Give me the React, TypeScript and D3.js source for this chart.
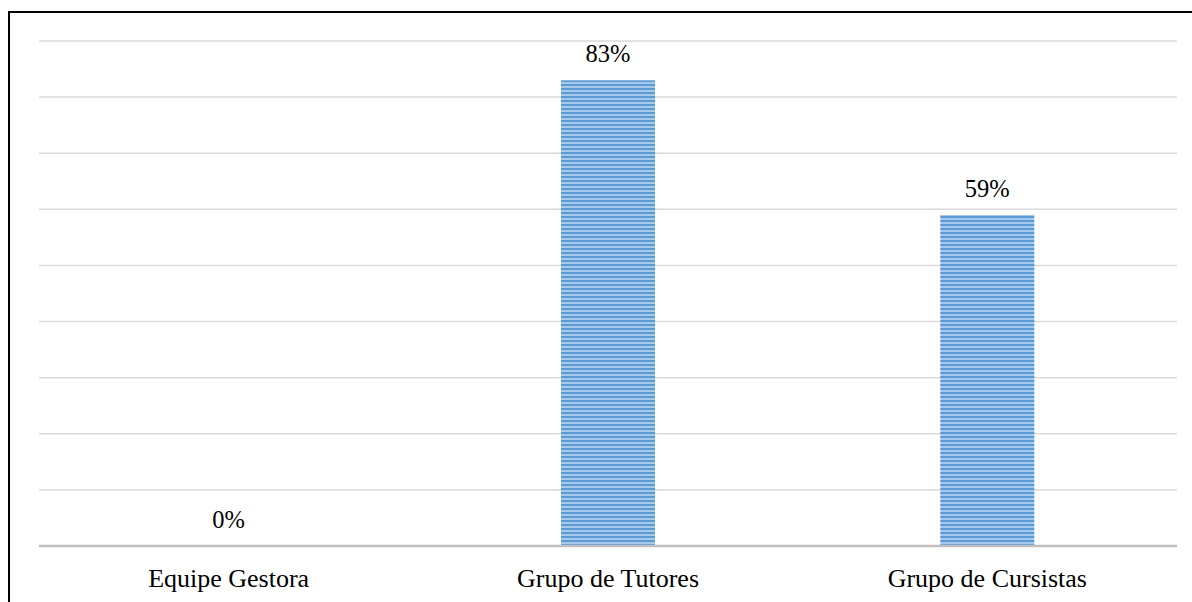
import React from "react";
import * as d3 from "d3";

const categories = ["Equipe Gestora", "Grupo de Tutores", "Grupo de Cursistas"];
const values = [0, 83, 59];
const gridTicks = [0, 10, 20, 30, 40, 50, 60, 70, 80, 90];

const W = 1192;
const H = 602;
const plot = { left: 39, right: 1177, top: 41, bottom: 546 };

export default function App() {
  const x = d3
    .scaleBand<string>()
    .domain(categories)
    .range([plot.left, plot.right])
    .paddingInner(0.752)
    .paddingOuter(0.376);
  const y = d3.scaleLinear().domain([0, 90]).range([plot.bottom, plot.top]);
  const family = "Liberation Serif, Times New Roman, Times, DejaVu Serif, serif";

  return (
    <svg
      width={W}
      height={H}
      style={{ position: "absolute", left: 0, top: 0, background: "#fff" }}
    >
      <defs>
        <pattern id="stripes" width={8} height={4} patternUnits="userSpaceOnUse">
          <rect width={8} height={4} fill="#a8c8ea" />
          <rect width={8} height={2} fill="#5b9bd5" />
        </pattern>
      </defs>
      <rect x={0} y={0} width={W} height={H} fill="#fff" />
      {/* outer frame: only the left and top edges fall inside the view */}
      <path d={`M9,${H + 5}V12H${W + 5}`} fill="none" stroke="#000" strokeWidth={2} />
      {gridTicks
        .filter((t) => t > 0)
        .map((t) => (
          <line
            key={t}
            x1={plot.left}
            x2={plot.right}
            y1={y(t)}
            y2={y(t)}
            stroke="#d9d9d9"
            strokeWidth={1.5}
          />
        ))}
      {categories.map((c, i) => (
        <rect
          key={c}
          x={x(c)}
          y={y(values[i])}
          width={x.bandwidth()}
          height={y(0) - y(values[i])}
          fill="url(#stripes)"
        />
      ))}
      <line
        x1={plot.left}
        x2={plot.right}
        y1={y(0)}
        y2={y(0)}
        stroke="#bfbfbf"
        strokeWidth={2.5}
      />
      {categories.map((c, i) => (
        <text
          key={c + "v"}
          x={(x(c) ?? 0) + x.bandwidth() / 2}
          y={y(values[i]) - 18}
          textAnchor="middle"
          style={{ fontFamily: family, fontSize: "24.5px" }}
          fill="#000"
        >
          {values[i]}%
        </text>
      ))}
      {categories.map((c) => (
        <text
          key={c + "l"}
          x={(x(c) ?? 0) + x.bandwidth() / 2}
          y={587}
          textAnchor="middle"
          style={{ fontFamily: family, fontSize: "26px" }}
          fill="#000"
        >
          {c}
        </text>
      ))}
    </svg>
  );
}
